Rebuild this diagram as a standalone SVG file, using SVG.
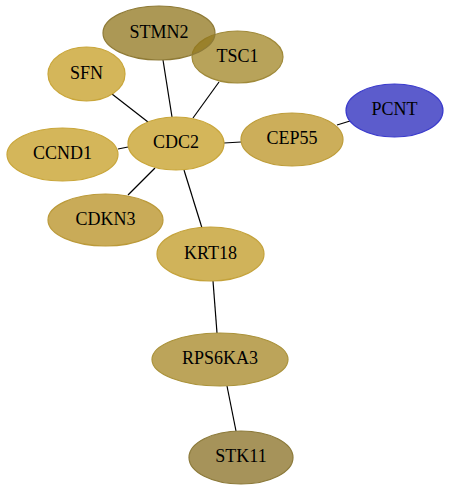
<svg xmlns="http://www.w3.org/2000/svg" width="449" height="491" viewBox="0 0 449 491">
<style>
.e{stroke:#000;stroke-width:1.2;fill:none}
.n ellipse{fill-opacity:0.75;stroke-width:1.2}
.n text{font-family:"Liberation Serif","Times New Roman",serif;font-size:18px;text-anchor:middle;fill:#000}
</style>
<rect width="449" height="491" fill="#fff"/>
<g id="edges">
<line class="e" x1="163" y1="60" x2="172" y2="117"/>
<line class="e" x1="219" y1="82" x2="193" y2="118"/>
<line class="e" x1="112" y1="94" x2="148" y2="122"/>
<line class="e" x1="118" y1="149" x2="128" y2="147"/>
<line class="e" x1="128" y1="195" x2="155" y2="168"/>
<line class="e" x1="224" y1="143" x2="241" y2="142"/>
<line class="e" x1="337" y1="125" x2="350" y2="121"/>
<line class="e" x1="184" y1="170" x2="202" y2="228"/>
<line class="e" x1="213" y1="281" x2="217" y2="333"/>
<line class="e" x1="227" y1="386" x2="236" y2="431"/>
</g>
<g id="TSC1" class="n"><ellipse cx="237.5" cy="57" rx="45.5" ry="26" fill="#a08423" stroke="#a08a3a"/><text x="237.5" y="62">TSC1</text></g>
<g id="STMN2" class="n"><ellipse cx="159" cy="33" rx="56" ry="27" fill="#90761c" stroke="#8e7a36"/><text x="159" y="38">STMN2</text></g>
<g id="SFN" class="n"><ellipse cx="86.5" cy="74" rx="38.5" ry="27" fill="#c69e23" stroke="#c9a63a"/><text x="86.5" y="79">SFN</text></g>
<g id="CDC2" class="n"><ellipse cx="176" cy="143.5" rx="48" ry="26.5" fill="#c69e23" stroke="#c9a63a"/><text x="176" y="148">CDC2</text></g>
<g id="CCND1" class="n"><ellipse cx="62.5" cy="154.5" rx="55.5" ry="26.5" fill="#c69e23" stroke="#c9a63a"/><text x="62.5" y="159">CCND1</text></g>
<g id="CDKN3" class="n"><ellipse cx="105.5" cy="220" rx="57.5" ry="26" fill="#b78f20" stroke="#bb9a3a"/><text x="105.5" y="225">CDKN3</text></g>
<g id="CEP55" class="n"><ellipse cx="292" cy="139.5" rx="51" ry="26.5" fill="#bb9323" stroke="#be9d3a"/><text x="292" y="144">CEP55</text></g>
<g id="PCNT" class="n"><ellipse cx="394.5" cy="110.5" rx="48.5" ry="26.5" fill="#2626bb" stroke="#3a3acc"/><text x="394.5" y="115">PCNT</text></g>
<g id="KRT18" class="n"><ellipse cx="210.5" cy="254" rx="53.5" ry="27" fill="#c09a23" stroke="#c4a23a"/><text x="210.5" y="259">KRT18</text></g>
<g id="RPS6KA3" class="n"><ellipse cx="220" cy="359.5" rx="68" ry="26.5" fill="#a68623" stroke="#aa923a"/><text x="220" y="364">RPS6KA3</text></g>
<g id="STK11" class="n"><ellipse cx="241" cy="457.5" rx="52" ry="26.5" fill="#886f23" stroke="#8c7a3a"/><text x="241" y="462">STK11</text></g>
</svg>
